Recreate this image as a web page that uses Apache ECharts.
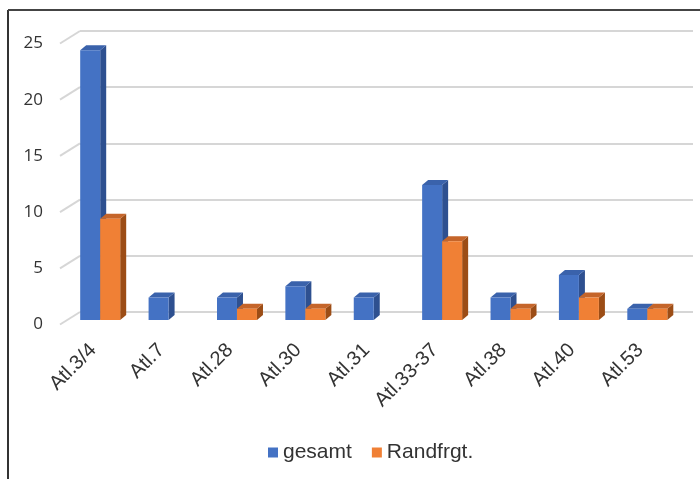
<!DOCTYPE html>
<html>
<head>
<meta charset="utf-8">
<script src="https://cdn.jsdelivr.net/npm/echarts@6/dist/echarts.min.js"></script>
<style>
  html, body { margin: 0; padding: 0; background: #fff; }
  #chart { width: 700px; height: 479px; }
</style>
</head>
<body>
<div id="chart"></div>
<script>
var categories = ['Atl.3/4', 'Atl.7', 'Atl.28', 'Atl.30', 'Atl.31', 'Atl.33-37', 'Atl.38', 'Atl.40', 'Atl.53']
var gesamt = [24, 2, 2, 3, 2, 12, 2, 4, 1]
var randfrgt = [9, null, 1, 1, null, 7, 1, 2, 1]
var yTicks = [0, 5, 10, 15, 20, 25]

var blue = { front: '#4472c4', side: '#2e5090', top: '#3a62ab' }
var orange = { front: '#f08035', side: '#9c4d16', top: '#c5652a' }

// 3d-ish bar: front face, side face, top face
function bar3d(left, colors) {
  return function (params, api) {
    var v = api.value(1)
    if (v == null || isNaN(v)) return
    var top = api.coord([api.value(0), v])
    var base = api.coord([api.value(0), 0])
    var w = 20, dx = 6, dy = -5
    var x0 = left ? top[0] - w : top[0]
    var x1 = x0 + w
    var y0 = top[1], y1 = base[1]
    return {
      type: 'group',
      children: [
        { type: 'polygon', shape: { points: [[x1, y0], [x1 + dx, y0 + dy], [x1 + dx, y1 + dy], [x1, y1]] }, style: { fill: colors.side } },
        { type: 'polygon', shape: { points: [[x0, y0], [x0 + dx, y0 + dy], [x1 + dx, y0 + dy], [x1, y0]] }, style: { fill: colors.top } },
        { type: 'rect', shape: { x: x0, y: y0, width: w, height: y1 - y0 }, style: { fill: colors.front } }
      ]
    }
  }
}

var chart = echarts.init(document.getElementById('chart'))
chart.setOption({
  animation: false,
  graphic: [
    { type: 'line', shape: { x1: 8, y1: 10, x2: 8, y2: 479 }, style: { stroke: '#333', lineWidth: 2 } },
    { type: 'line', shape: { x1: 8, y1: 10, x2: 700, y2: 10 }, style: { stroke: '#444', lineWidth: 2 } }
  ],
  legend: {
    data: ['gesamt', 'Randfrgt.'],
    left: 263,
    top: 437,
    icon: 'rect',
    itemWidth: 10,
    itemHeight: 10,
    itemGap: 20,
    textStyle: { fontSize: 21, color: '#333', fontFamily: 'Liberation Sans' }
  },
  grid: [
    { left: 66, right: 18.5, top: 39, bottom: 159 },
    { left: 80, right: 7, top: 31, bottom: 167 }
  ],
  xAxis: [
    {
      type: 'category',
      gridIndex: 0,
      data: categories,
      axisLine: { show: false },
      axisTick: { show: false },
      axisLabel: {
        rotate: 45,
        interval: 0,
        margin: 20,
        padding: [0, 10, 0, 0],
        fontSize: 20,
        color: '#333',
        fontFamily: 'Liberation Sans'
      }
    },
    { type: 'category', gridIndex: 1, data: categories, show: false }
  ],
  yAxis: [
    {
      type: 'value',
      gridIndex: 0,
      min: 0,
      max: 25,
      interval: 5,
      splitLine: { show: false },
      axisLine: { show: false },
      axisTick: { show: false },
      axisLabel: {
        margin: 23,
        fontSize: 17,
        color: '#333',
        fontFamily: 'Open Sans',
        verticalAlign: 'top',
        lineHeight: 9
      }
    },
    {
      type: 'value',
      gridIndex: 1,
      min: 0,
      max: 25,
      interval: 5,
      axisLine: { show: false },
      axisTick: { show: false },
      axisLabel: { show: false },
      splitLine: { show: true, lineStyle: { color: '#d6d6d6', width: 2 } }
    }
  ],
  series: [
    {
      type: 'custom',
      name: 'ticks',
      xAxisIndex: 1,
      yAxisIndex: 1,
      silent: true,
      data: yTicks.map(function (v) { return [0, v] }),
      renderItem: function (params, api) {
        var y = api.coord([0, api.value(1)])[1]
        var x = params.coordSys.x
        return {
          type: 'line',
          shape: { x1: x - 20, y1: y + 12.5, x2: x, y2: y },
          style: { stroke: '#d6d6d6', lineWidth: 2 }
        }
      }
    },
    {
      type: 'custom',
      name: 'gesamt',
      itemStyle: { color: blue.front },
      data: gesamt.map(function (v, i) { return [i, v] }),
      renderItem: bar3d(true, blue)
    },
    {
      type: 'custom',
      name: 'Randfrgt.',
      itemStyle: { color: orange.front },
      data: randfrgt.map(function (v, i) { return [i, v] }),
      renderItem: bar3d(false, orange)
    }
  ]
})
</script>
</body>
</html>
